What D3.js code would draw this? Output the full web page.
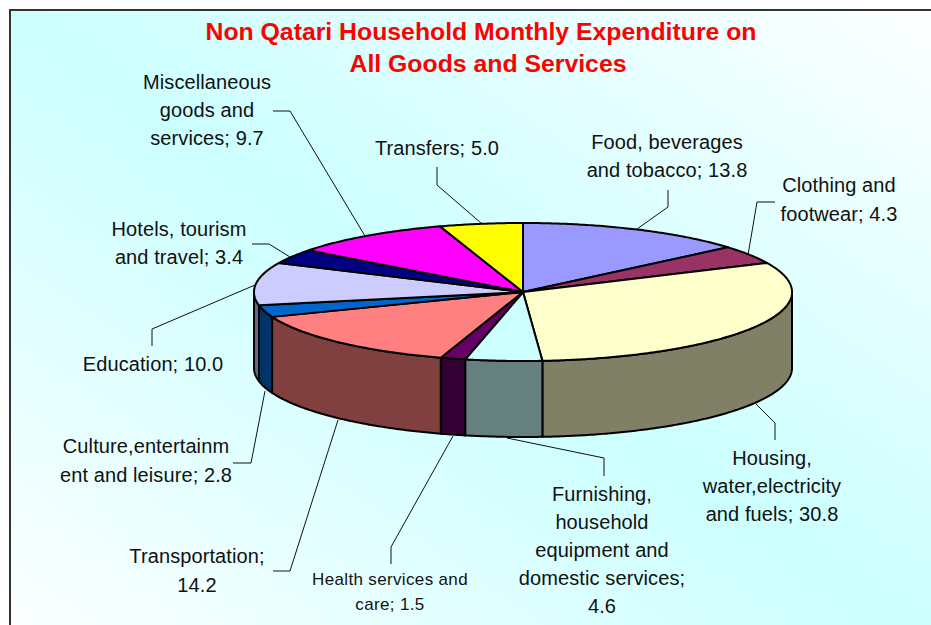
<!DOCTYPE html>
<html>
<head>
<meta charset="utf-8">
<script src="https://cdn.jsdelivr.net/npm/d3@7"></script>
<style>
html, body { margin: 0; padding: 0; background: #fff; overflow: hidden; }
text { font-family: "Liberation Sans", Arial, sans-serif; }
</style>
</head>
<body>
<div id="chart"></div>
<script>
// data, clockwise from 12 o'clock
var categories = ["Food, beverages and tobacco", "Clothing and footwear", "Housing, water,electricity and fuels",
    "Furnishing, household equipment and domestic services", "Health services and care", "Transportation",
    "Culture,entertainment and leisure", "Education", "Hotels, tourism and travel",
    "Miscellaneous goods and services", "Transfers"];
var values = [13.8, 4.3, 30.8, 4.6, 1.5, 14.2, 2.8, 10.0, 3.4, 9.7, 5.0];
var topColors = ["#9999FF", "#993366", "#FFFFCC", "#CCFFFF", "#660066", "#FF8080", "#0066CC", "#CCCCFF", "#000080", "#FF00FF", "#FFFF00"];
var sideColors = ["#666680", "#4d1a33", "#808066", "#668080", "#330033", "#804040", "#003366", "#666680", "#000040", "#800080", "#808000"];
var titleLines = ["Non Qatari Household Monthly Expenditure on", "All Goods and Services"];
var labelLines = [
    ["Food, beverages", "and tobacco; 13.8"],
    ["Clothing and", "footwear; 4.3"],
    ["Housing,", "water,electricity", "and fuels; 30.8"],
    ["Furnishing,", "household", "equipment and", "domestic services;", "4.6"],
    ["Health services and", "care; 1.5"],
    ["Transportation;", "14.2"],
    ["Culture,entertainm", "ent and leisure; 2.8"],
    ["Education; 10.0"],
    ["Hotels, tourism", "and travel; 3.4"],
    ["Miscellaneous", "goods and", "services; 9.7"],
    ["Transfers; 5.0"]
];

// layout of the hand placed labels: centre x, first baseline, line step, font size, leader line
var labelLayout = [
    {x: 667, y: 149, step: 28, size: 20, leader: [[668, 190], [668, 207], [637, 229]]},
    {x: 839, y: 192, step: 29, size: 20, leader: [[775, 202], [757, 202], [748, 255]]},
    {x: 772, y: 465, step: 28, size: 20, leader: [[775, 440], [775, 423], [755, 403]]},
    {x: 602, y: 501, step: 28, size: 20, leader: [[604, 476], [604, 458], [507, 438]]},
    {x: 390, y: 585, step: 25, size: 17, leader: [[391, 564], [391, 547], [453, 436]]},
    {x: 197, y: 563, step: 29, size: 20, leader: [[273, 571], [290, 571], [338, 420]]},
    {x: 146, y: 453, step: 29, size: 20, leader: [[233, 463], [251, 463], [265, 391]]},
    {x: 153, y: 371, step: 28, size: 20, leader: [[152, 346], [152, 329], [255, 285]]},
    {x: 179, y: 236, step: 28, size: 20, leader: [[252, 244], [269, 244], [290, 257]]},
    {x: 207, y: 89, step: 28, size: 20, leader: [[273, 111], [290, 111], [365, 236]]},
    {x: 437, y: 155, step: 28, size: 20, leader: [[437, 167], [437, 185], [481, 223]]}
];

var svgWidth = 931;
var svgHeight = 625;
var depth = 76;

var svg = d3.select("#chart")
    .append("svg")
    .attr("width", svgWidth)
    .attr("height", svgHeight)
    .style("display", "block");

// background: cyan along the top left to bottom right diagonal, white in the other corners
var grad = svg.append("defs").append("linearGradient")
    .attr("id", "bg")
    .attr("x1", 0).attr("y1", 1)
    .attr("x2", 1).attr("y2", 0);
grad.append("stop").attr("offset", "0%").attr("stop-color", "#ffffff");
grad.append("stop").attr("offset", "50%").attr("stop-color", "#CCFFFF");
grad.append("stop").attr("offset", "100%").attr("stop-color", "#ffffff");

svg.append("rect")
    .attr("x", 10)
    .attr("y", 10)
    .attr("width", 960)
    .attr("height", 660)
    .attr("fill", "url(#bg)")
    .attr("stroke", "#333")
    .attr("stroke-width", 2);

// title, the second line sits a little right of the first in the original
svg.selectAll(".title")
    .data(titleLines)
    .enter()
    .append("text")
    .attr("class", "title")
    .attr("x", (d, i) => i === 0 ? 481 : 488)
    .attr("y", (d, i) => 40 + i * 32)
    .attr("text-anchor", "middle")
    .attr("font-size", "24.8px")
    .attr("font-weight", "bold")
    .attr("fill", "#FF0000")
    .text(d => d);

// pie is a flat disc seen at an angle, so use two scales for the ellipse
var xScale = d3.scaleLinear().domain([-1, 1]).range([254, 792]);
var yScale = d3.scaleLinear().domain([-1, 1]).range([223, 361]);

var pie = d3.pie().sort(null).value(d => d);
var slices = pie(values);

function rimPoints(a0, a1, drop) {
    var n = Math.max(2, Math.ceil((a1 - a0) / 0.01));
    return d3.range(n + 1).map(function(i) {
        var a = a0 + (a1 - a0) * i / n;
        return [xScale(Math.sin(a)), yScale(-Math.cos(a)) + drop];
    });
}

var line = d3.line();

// only the front half of the rim shows a wall
var walls = slices.filter(d => d.endAngle > Math.PI / 2 && d.startAngle < 3 * Math.PI / 2);

svg.selectAll(".wall")
    .data(walls)
    .enter()
    .append("path")
    .attr("class", "wall")
    .attr("d", function(d) {
        var a0 = Math.max(d.startAngle, Math.PI / 2);
        var a1 = Math.min(d.endAngle, 3 * Math.PI / 2);
        return line(rimPoints(a0, a1, 0).concat(rimPoints(a0, a1, depth).reverse())) + "Z";
    })
    .attr("fill", d => sideColors[d.index])
    .attr("stroke", "#000")
    .attr("stroke-width", 2)
    .attr("stroke-linejoin", "round");

svg.selectAll(".slice")
    .data(slices)
    .enter()
    .append("path")
    .attr("class", "slice")
    .attr("d", function(d) {
        var pts = [[xScale(0), yScale(0)]].concat(rimPoints(d.startAngle, d.endAngle, 0));
        return line(pts) + "Z";
    })
    .attr("fill", d => topColors[d.index])
    .attr("stroke", "#000")
    .attr("stroke-width", 2)
    .attr("stroke-linejoin", "round");

// leader lines
svg.selectAll(".leader")
    .data(labelLayout)
    .enter()
    .append("path")
    .attr("class", "leader")
    .attr("d", d => line(d.leader))
    .attr("fill", "none")
    .attr("stroke", "#111")
    .attr("stroke-width", 1);

// labels
var labels = svg.selectAll(".label")
    .data(labelLines)
    .enter()
    .append("text")
    .attr("class", "label")
    .attr("text-anchor", "middle")
    .attr("fill", "#111")
    .attr("font-size", (d, i) => labelLayout[i].size + "px")
    .attr("letter-spacing", (d, i) => i === 4 ? "0.35px" : "0.1px");

labels.each(function(lines, i) {
    var pos = labelLayout[i];
    d3.select(this).selectAll("tspan")
        .data(lines)
        .enter()
        .append("tspan")
        .attr("x", pos.x)
        .attr("y", (d, j) => pos.y + j * pos.step)
        .text(d => d);
});
</script>
</body>
</html>
